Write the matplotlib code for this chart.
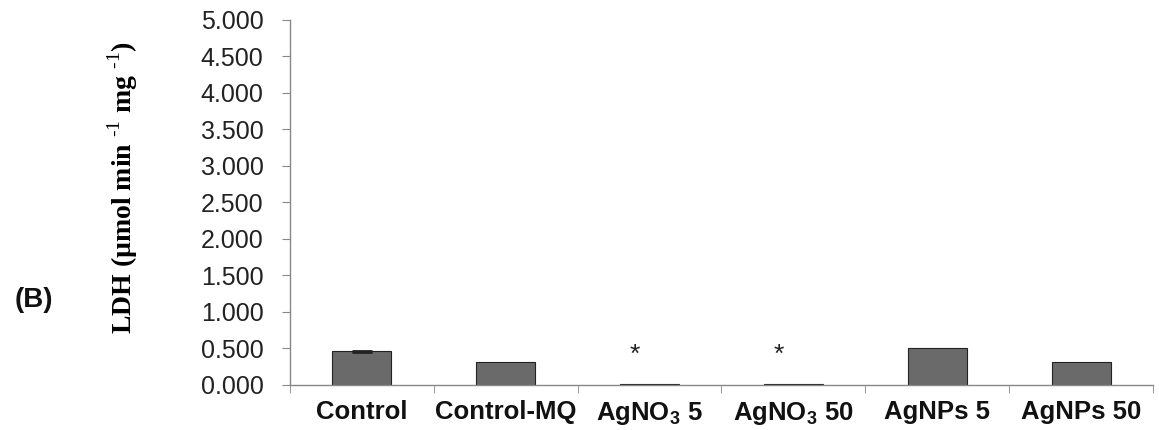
import matplotlib.pyplot as plt
import numpy as np

plt.rcParams['font.family'] = ['Liberation Sans', 'DejaVu Sans']
plt.rcParams['mathtext.fontset'] = 'custom'
plt.rcParams['mathtext.rm'] = 'Liberation Serif'
plt.rcParams['mathtext.bf'] = 'Liberation Sans:bold'

# data
groups = ['Control', 'Control-MQ', r'AgNO$_\mathbf{3}$ 5', r'AgNO$_\mathbf{3}$ 50', 'AgNPs 5', 'AgNPs 50']
ldh = [0.46, 0.32, 0.01, 0.01, 0.50, 0.32]
err = [0.012, 0.0, 0.0, 0.0, 0.0, 0.0]
signif = ['', '', '*', '*', '', '']
yticks = [0.0, 0.5, 1.0, 1.5, 2.0, 2.5, 3.0, 3.5, 4.0, 4.5, 5.0]

fig = plt.figure(figsize=(11.59, 4.30), dpi=100)
ax = fig.add_axes([0.2502, 0.1047, 0.7446, 0.8488])

x = np.arange(len(groups))
ax.bar(x, ldh, width=0.41, color='#6a6a6a', edgecolor='#222222', linewidth=0.8)

# error bars only where there is one
has_err = np.array(err) > 0
ax.errorbar(x[has_err], np.array(ldh)[has_err], yerr=np.array(err)[has_err], fmt='none',
            ecolor='#222222', elinewidth=1.2, capsize=7, capthick=2)

# significance marks
for xi, s in zip(x, signif):
    if s:
        ax.text(xi - 0.1, 0.41, s, ha='center', va='center', fontsize=19, color='#222222')

ax.set_xlim(-0.5, len(groups) - 0.5)
ax.set_ylim(0, 5.0)
ax.set_yticks(yticks)
ax.set_yticklabels([f'{v:.3f}' for v in yticks], fontsize=18, color='#222222')
ax.set_xticks(x)
ax.set_xticklabels(groups, fontsize=18.5, fontweight='bold', color='#111111')
ax.set_xticks(np.arange(len(groups) + 1) - 0.5, minor=True)
ax.tick_params(axis='x', which='major', length=0, pad=11)
ax.tick_params(axis='x', which='minor', length=6, color='#888888', direction='out')
ax.tick_params(axis='y', length=6, color='#888888', direction='out', pad=13)

for s in ['top', 'right']:
    ax.spines[s].set_visible(False)
for s in ['left', 'bottom']:
    ax.spines[s].set_color('#888888')
    ax.spines[s].set_linewidth(1.0)

ax.set_ylabel(r'LDH (µmol min $^{\text{-1}}$ mg $^{\text{-1}}$)', family='Liberation Serif',
              fontweight='bold', fontsize=20)
ax.yaxis.set_label_coords(-0.174, 0.541)

fig.text(0.013, 0.285, '(B)', fontsize=20, fontweight='bold', color='#111111')

plt.savefig('out.png', dpi=100)
